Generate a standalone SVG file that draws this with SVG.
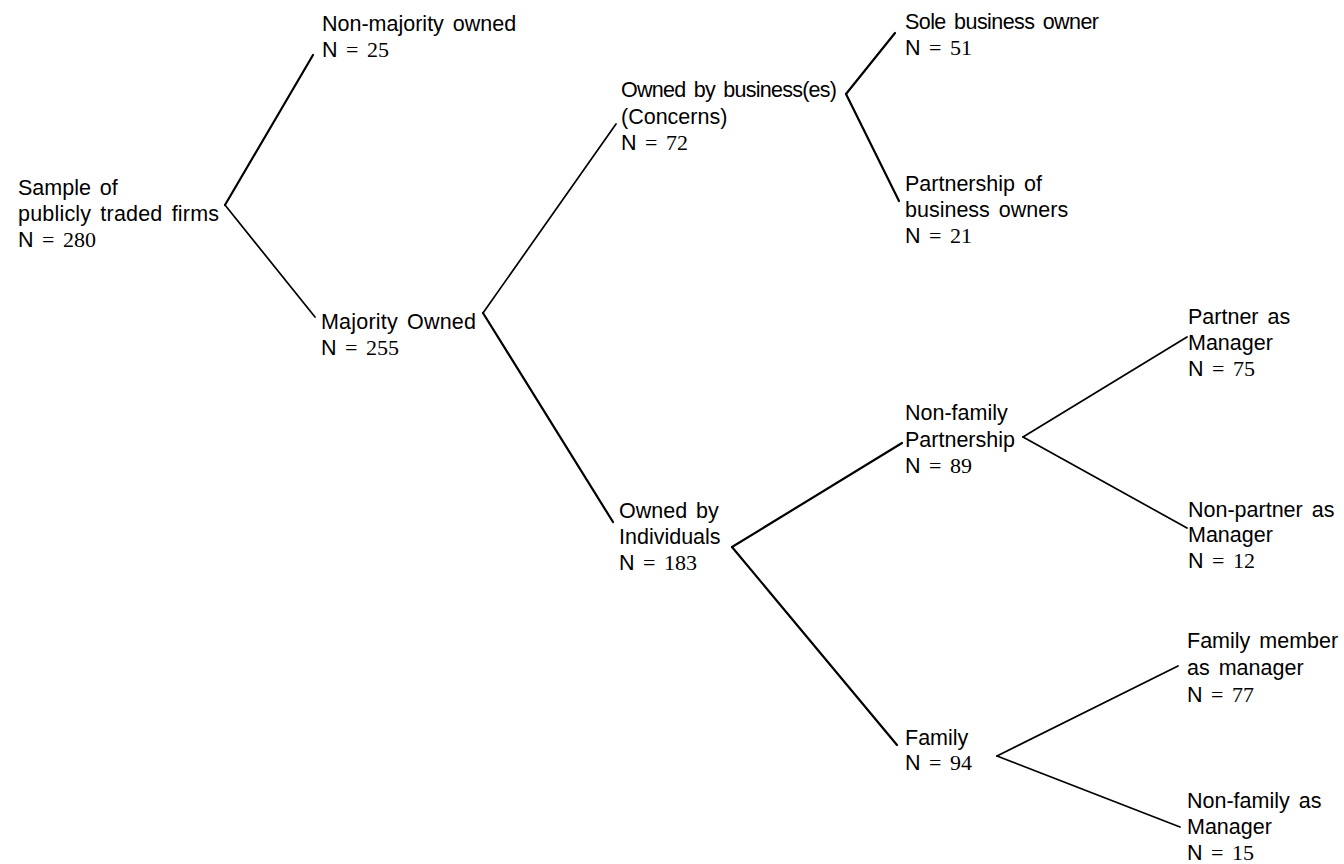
<svg xmlns="http://www.w3.org/2000/svg" width="1344" height="864" viewBox="0 0 1344 864">
<style>
text{font-family:"Liberation Sans",Arial,sans-serif;font-size:21.5px;fill:#000;word-spacing:3px}
.n{font-family:"Liberation Serif","Times New Roman",serif;font-size:22px}
.c line{stroke:#000;stroke-width:1.7;stroke-linecap:round}
.c .t{stroke-width:2.2}
</style>
<rect width="1344" height="864" fill="#fff"/>
<g class="c" id="connectors">
<line class="t" x1="225" y1="205" x2="313" y2="55"/>
<line x1="225" y1="205" x2="315" y2="317"/>
<line x1="483" y1="313" x2="616" y2="124"/>
<line class="t" x1="483" y1="313" x2="613" y2="522"/>
<line class="t" x1="846" y1="94" x2="895" y2="33"/>
<line class="t" x1="846" y1="94" x2="899" y2="201"/>
<line class="t" x1="732" y1="547" x2="902" y2="443"/>
<line class="t" x1="732" y1="547" x2="897" y2="745"/>
<line x1="1023" y1="437" x2="1187" y2="337"/>
<line x1="1023" y1="437" x2="1187" y2="528"/>
<line x1="997" y1="756" x2="1178" y2="666"/>
<line x1="997" y1="756" x2="1180" y2="827"/>
</g>
<g id="root"><text x="18" y="195">Sample of</text><text x="18" y="221" textLength="201">publicly traded firms</text><text x="18" y="247">N<tspan class="n"> = 280</tspan></text></g>
<g id="nonmajority"><text x="322" y="31">Non-majority owned</text><text x="322" y="57">N<tspan class="n"> = 25</tspan></text></g>
<g id="majority"><text x="321" y="329" textLength="155">Majority Owned</text><text x="321" y="355">N<tspan class="n"> = 255</tspan></text></g>
<g id="business"><text x="621" y="97" textLength="216">Owned by business(es)</text><text x="621" y="124">(Concerns)</text><text x="621" y="150">N<tspan class="n"> = 72</tspan></text></g>
<g id="sole"><text x="905" y="29" textLength="194">Sole business owner</text><text x="905" y="55">N<tspan class="n"> = 51</tspan></text></g>
<g id="partnership"><text x="905" y="191">Partnership of</text><text x="905" y="217">business owners</text><text x="905" y="243">N<tspan class="n"> = 21</tspan></text></g>
<g id="individuals"><text x="619" y="518">Owned by</text><text x="619" y="544">Individuals</text><text x="619" y="570">N<tspan class="n"> = 183</tspan></text></g>
<g id="nonfamilypartnership"><text x="905" y="420">Non-family</text><text x="905" y="447">Partnership</text><text x="905" y="473">N<tspan class="n"> = 89</tspan></text></g>
<g id="partnermanager"><text x="1188" y="324">Partner as</text><text x="1188" y="350">Manager</text><text x="1188" y="376">N<tspan class="n"> = 75</tspan></text></g>
<g id="nonpartnermanager"><text x="1188" y="517">Non-partner as</text><text x="1188" y="542">Manager</text><text x="1188" y="568">N<tspan class="n"> = 12</tspan></text></g>
<g id="family"><text x="905" y="745">Family</text><text x="905" y="770">N<tspan class="n"> = 94</tspan></text></g>
<g id="familymanager"><text x="1187" y="648">Family member</text><text x="1187" y="675">as manager</text><text x="1187" y="702">N<tspan class="n"> = 77</tspan></text></g>
<g id="nonfamilymanager"><text x="1187" y="808">Non-family as</text><text x="1187" y="834">Manager</text><text x="1187" y="860">N<tspan class="n"> = 15</tspan></text></g>
</svg>
